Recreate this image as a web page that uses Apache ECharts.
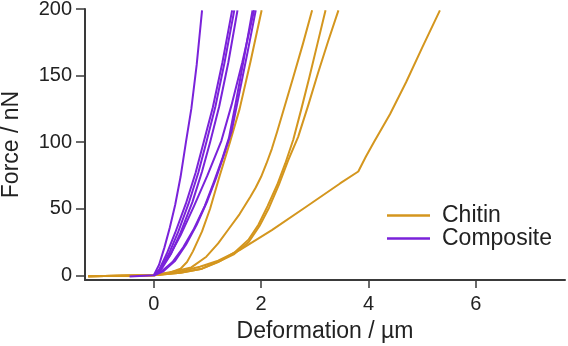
<!DOCTYPE html>
<html>
<head>
<meta charset="utf-8">
<script src="https://cdn.jsdelivr.net/npm/echarts@6/dist/echarts.min.js"></script>
<style>html,body{margin:0;padding:0;background:#fff}#c{width:568px;height:346px}</style>
</head>
<body>
<div id="c"></div>
<script>
// ---- data (x: deformation µm, y: force nN) ----
const chitin1 = [[-1.22,-0.7],[0,0],[0.3,2],[0.5,5],[0.62,10],[0.73,18],[0.9,33],[1.05,50],[1.23,75],[1.42,100],[1.6,125],[1.8,160],[2.01,199]];
const chitin2 = [[-1.22,-0.7],[0,0],[0.4,3],[0.7,6],[0.98,14],[1.2,24],[1.4,35],[1.6,46],[1.8,59],[1.9,66],[2.0,74],[2.1,84],[2.2,95],[2.3,108],[2.41,123],[2.6,149],[2.78,174],[2.95,199]];
const chitin3 = [[-1.22,-0.7],[0,0],[0.5,2],[0.9,5],[1.2,10],[1.5,17],[1.77,27],[1.95,38],[2.12,52],[2.3,68],[2.45,84],[2.6,102],[2.75,125],[2.9,149],[3.05,174],[3.2,199]];
const chitin4 = [[-1.22,-0.7],[0,0],[0.5,2],[0.9,5],[1.25,11],[1.5,16],[1.77,25],[1.97,37],[2.15,51],[2.33,68],[2.5,86],[2.69,104],[2.88,128],[3.06,152],[3.25,176],[3.44,199]];
const chitin5 = [[-1.22,-0.7],[0,0],[0.4,2],[0.86,6.5],[1.2,11],[1.6,19],[2.2,34],[2.84,51.5],[3.47,69],[3.81,78],[3.95,89],[4.1,100],[4.4,121],[4.7,145],[5.0,171],[5.33,199]];

const composite1 = [[-0.45,-0.8],[0,0],[0.1,8],[0.2,21],[0.3,36],[0.4,53],[0.5,74],[0.6,100],[0.7,125],[0.8,158],[0.9,199]];
const composite2 = [[0,0],[0.1,4],[0.24,16],[0.4,32],[0.6,54],[0.78,77],[0.93,100],[1.1,126],[1.28,160],[1.46,199]];
const composite3 = [[0,0],[0.1,3],[0.28,16],[0.45,32],[0.65,54],[0.83,77],[0.98,100],[1.15,127],[1.32,160],[1.50,199]];
const composite4 = [[0,0],[0.12,3],[0.32,16],[0.5,32],[0.72,55],[0.9,78],[1.05,100],[1.22,127],[1.39,160],[1.56,199]];
const composite5 = [[0,0],[0.15,3],[0.35,10],[0.55,21],[0.75,35],[0.95,52],[1.12,70],[1.28,88],[1.4,103],[1.54,132],[1.69,165],[1.84,199]];
const composite6 = [[0,0],[0.1,4],[0.3,15],[0.5,30],[0.75,52],[1.0,75],[1.26,101],[1.45,128],[1.65,160],[1.87,199]];
const composite7 = [[0,0],[0.18,3],[0.4,11],[0.6,23],[0.8,38],[1.0,56],[1.17,74],[1.32,92],[1.45,108],[1.6,138],[1.75,168],[1.90,199]];

const seriesNames = ['Chitin', 'Composite'];
const xTicks = [0, 2, 4, 6];
const yTicks = [0, 50, 100, 150, 200];

const chitinSets = [chitin1, chitin2, chitin3, chitin4, chitin5];
const compositeSets = [composite1, composite2, composite3, composite4, composite5, composite6, composite7];

const GOLD = '#D4961E';
const PURPLE = '#7A22DA';
const FONT = 'Liberation Sans, Arial, sans-serif';

function mk(name, data, color) {
  return {
    type: 'line', name: name, data: data, symbol: 'none', showSymbol: false,
    smooth: false,
    lineStyle: { width: 2, color: color, join: 'round' }, itemStyle: { color: color },
    emphasis: { disabled: true }
  };
}
const series = [];
chitinSets.forEach(d => series.push(mk(seriesNames[0], d, GOLD)));
compositeSets.forEach(d => series.push(mk(seriesNames[1], d, PURPLE)));

const axisCol = '#3a3a3a';
const chart = echarts.init(document.getElementById('c'), null, { renderer: 'canvas' });
chart.setOption({
  animation: false,
  textStyle: { fontFamily: FONT },
  grid: { left: 85, right: 3, top: 9, bottom: 66, containLabel: false, outerBoundsMode: 'none' },
  legend: {
    data: seriesNames, orient: 'vertical', left: 387, top: 204, padding: 0,
    icon: 'rect', itemWidth: 43, itemHeight: 2.5, itemGap: 0,
    textStyle: { fontSize: 23, color: '#222', fontFamily: FONT, lineHeight: 23, padding: [0, 0, 0, 7] }
  },
  xAxis: {
    type: 'value', min: -1.28, max: 7.66,
    name: 'Deformation / µm', nameLocation: 'middle', nameGap: 40,
    nameTextStyle: { fontSize: 23, color: '#222', fontFamily: FONT },
    axisLine: { onZero: false, lineStyle: { color: axisCol, width: 2 } },
    axisTick: { customValues: xTicks, length: 8, lineStyle: { color: axisCol, width: 1.5 } },
    axisLabel: { customValues: xTicks, fontSize: 20, color: '#222', margin: 14, fontFamily: FONT },
    splitLine: { show: false }
  },
  yAxis: {
    type: 'value', min: -3.5, max: 200,
    name: 'Force / nN', nameLocation: 'middle', nameGap: 62,
    nameTextStyle: { fontSize: 23, color: '#222', fontFamily: FONT },
    axisLine: { show: true, onZero: false, lineStyle: { color: axisCol, width: 2 } },
    axisTick: { show: true, customValues: yTicks, length: 9, lineStyle: { color: axisCol, width: 1.5 } },
    axisLabel: { customValues: yTicks, fontSize: 20, color: '#222', margin: 13, fontFamily: FONT },
    splitLine: { show: false }
  },
  series: series
});
</script>
</body>
</html>
